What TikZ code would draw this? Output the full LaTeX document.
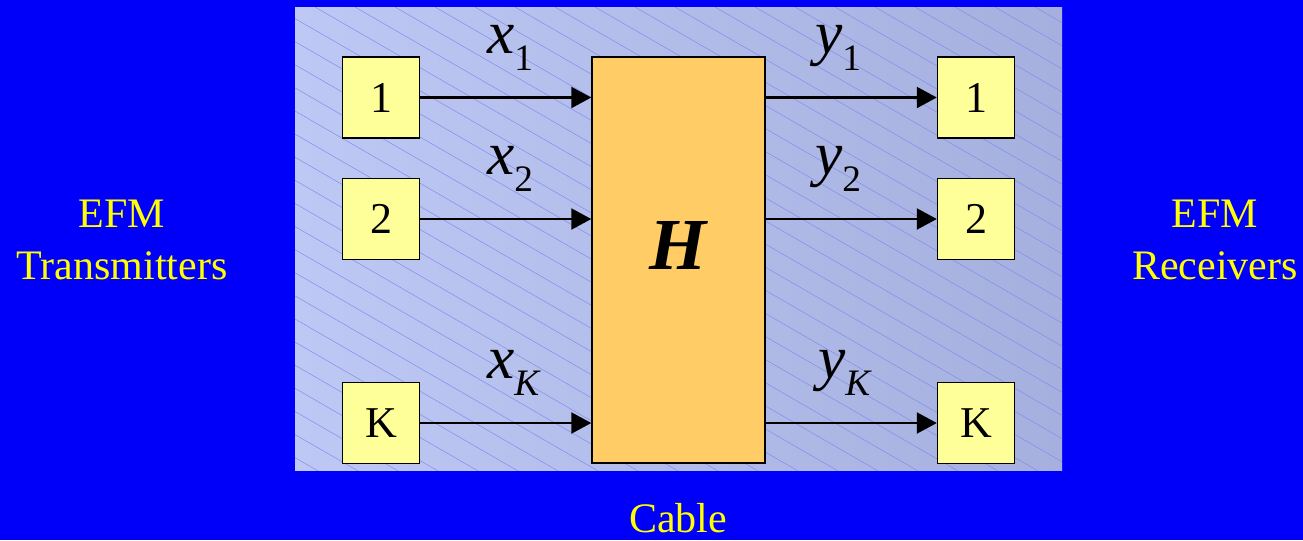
\documentclass[tikz,border=0pt]{standalone}
\usepackage{fontspec}
\setmainfont{LiberationSerif-Regular.ttf}[
  BoldFont=LiberationSerif-Bold.ttf,
  ItalicFont=LiberationSerif-Italic.ttf,
  BoldItalicFont=LiberationSerif-BoldItalic.ttf]
\usetikzlibrary{arrows.meta}
\definecolor{efmBgColor}{RGB}{0,0,250}
\definecolor{efmTextColor}{RGB}{255,255,0}
\definecolor{efmPanelLeft}{RGB}{190,200,244}
\definecolor{efmPanelRight}{RGB}{166,176,222}
\definecolor{efmHatchColor}{RGB}{128,138,236}
\definecolor{efmBoxColor}{RGB}{255,255,153}
\definecolor{efmChanColor}{RGB}{255,204,102}
\begin{document}
\begin{tikzpicture}
% Cable channel picture, drawn on a pixel grid (y runs downward)
\def\pxsz{0.75pt}
\providecommand{\efmLineWidth}{1.7pt}
\begin{scope}[x=\pxsz, y=-\pxsz,
  userbox/.style={draw=black, line width=1.1pt, fill=efmBoxColor, inner sep=0pt,
    minimum width=57.75pt, minimum height=60.75pt, font=\fontsize{33}{33}\selectfont},
  chanbox/.style={draw=black, line width=1.1pt, fill=efmChanColor, inner sep=0pt,
    minimum width=129.75pt, minimum height=304.5pt, font=\fontsize{55}{55}\selectfont\bfseries\itshape},
  sigline/.style={draw=black, line width=\efmLineWidth, -{Triangle[length=15pt,width=15.75pt]}},
  siglabel/.style={anchor=base west, inner sep=0pt, font=\fontsize{46}{46}\selectfont\itshape},
  sidetext/.style={text=efmTextColor, align=center, font=\fontsize{31.5}{39}\selectfont}]
  % Background and bounding box
  \fill[efmBgColor] (0,0) rectangle (1303,540);
  \useasboundingbox (0,0) rectangle (1303,540);
  % Cable panel with its hatching
  \shade[left color=efmPanelLeft, right color=efmPanelRight] (295,7) rectangle (1062,470);
  \begin{scope}
    \clip (295,7) rectangle (1062,470);
    \foreach \i in {-565,-525,...,1035}
      \draw[efmHatchColor, line width=0.35pt] (\i,7) -- ++(900,520);
  \end{scope}
  % Transmitters
  \node[userbox] (tx1) at (381,97.5) {1};
  \node[userbox] (tx2) at (381,219) {2};
  \node[userbox] (txK) at (381,423) {K};
  % Channel
  \node[chanbox] (chan) at (678.5,260) {\raisebox{22.5pt}{H}};
  % Receivers
  \node[userbox] (rx1) at (976,97.5) {1};
  \node[userbox] (rx2) at (976,219) {2};
  \node[userbox] (rxK) at (976,423) {K};
  % Connectors
  \draw[sigline] (tx1.east) -- (tx1.east -| chan.west);
  \draw[sigline] (tx2.east) -- (tx2.east -| chan.west);
  \draw[sigline] (txK.east) -- (txK.east -| chan.west);
  \draw[sigline] (rx1.west -| chan.east) -- (rx1.west);
  \draw[sigline] (rx2.west -| chan.east) -- (rx2.west);
  \draw[sigline] (rxK.west -| chan.east) -- (rxK.west);
  % Signal labels
  \node[siglabel] (x1) at (487,53) {x\lower12.75pt\hbox{\fontsize{28}{28}\selectfont\upshape 1}};
  \node[siglabel] (x2) at (487,174.5) {x\lower12.75pt\hbox{\fontsize{28}{28}\selectfont\upshape 2}};
  \node[siglabel] (xK) at (487,378.5) {x\lower12.75pt\hbox{\fontsize{28}{28}\selectfont K}};
  \node[siglabel] (y1) at (815,53) {y\lower12.75pt\hbox{\fontsize{28}{28}\selectfont\upshape 1}};
  \node[siglabel] (y2) at (815,174.5) {y\lower12.75pt\hbox{\fontsize{28}{28}\selectfont\upshape 2}};
  \node[siglabel] (yK) at (818,378.5) {y\lower12.75pt\hbox{\fontsize{28}{28}\selectfont K}};
  % Side texts
  \node[sidetext] (txtext) at (122,240) {EFM\\Transmitters};
  \node[sidetext] (rxtext) at (1215,240) {EFM\\Receivers};
  \node[sidetext, anchor=base] (cabletext) at (678,532) {Cable};
\end{scope}
\end{tikzpicture}
\end{document}
